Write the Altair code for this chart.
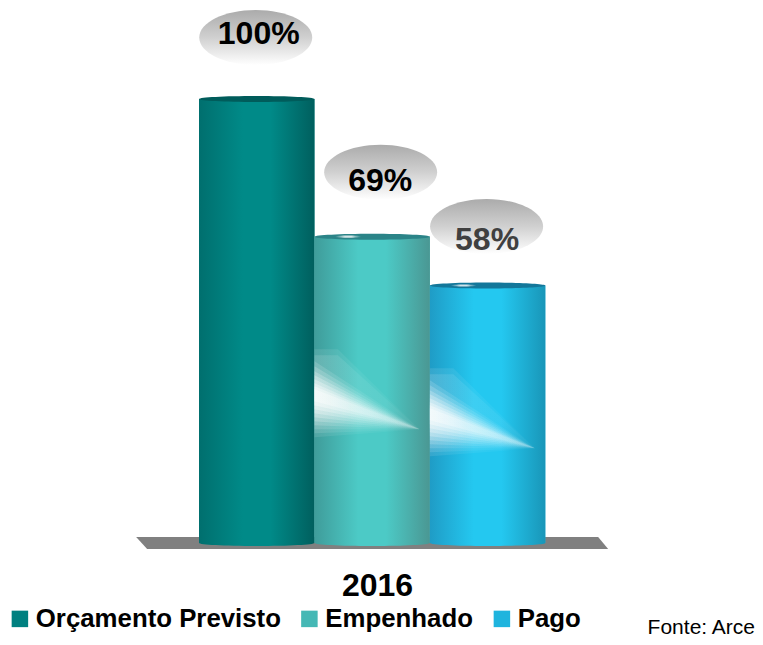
import altair as alt
import pandas as pd

categories = ["Orçamento Previsto", "Empenhado", "Pago"]
values = [100, 69, 58]
labels = ["100%", "69%", "58%"]
swatch_colors = ["#008080", "#45b8b5", "#1fb4de"]
label_colors = ["#000000", "#000000", "#404040"]
edge_colors = [
    ["#006f6e", "#008a88", "#008a88", "#005f5e"],
    ["#3f9c9a", "#4ccac6", "#4ccac6", "#4a9793"],
    ["#1f9cc6", "#24c8f0", "#24c8f0", "#1996b8"],
]
cap_colors = ["#005c5b", "#2b8488", "#13779a"]

# glare: nested fans, px above and below the bright spot on the cylinder's left edge
glare_top = [-42, -36, -30, -25, -20, -16, -12, -8, -5, -2]
glare_bottom = [46, 42, 38, 34, 30, 26, 22, 18, 14, 10]
glare_alpha = [0.1, 0.12, 0.14, 0.18, 0.22, 0.26, 0.3, 0.34, 0.4, 0.4]
glare_at = [34.2, 29.9]

FONT = "Liberation Sans"
ELLIPSE = "M-1,0 A1,{r} 0 1,1 1,0 A1,{r} 0 1,1 -1,0 Z"
BALLOON = ELLIPSE.format(r=0.487)
CAP = ELLIPSE.format(r=0.052)
SHINE = ELLIPSE.format(r=0.08)
GROUND = "M-1,-0.0254 L0.9576,-0.0254 L1,0.0254 L-0.9534,0.0254 Z"

x_scale = alt.Scale(domain=categories, range=[191, 537.3], paddingInner=0, paddingOuter=0)
y_scale = alt.Scale(domain=[0, 100], range=[535, 91], nice=False, zero=True)
X = alt.X("cat:N", scale=x_scale, axis=None, sort=categories)
Y = alt.Y("val:Q", scale=y_scale, axis=None)


def hgrad(stops, offs=(0, 0.38, 0.62, 1)):
    return alt.LinearGradient(
        gradient="linear", x1=0, x2=1, y1=0, y2=0,
        stops=[alt.GradientStop(offset=o, color=c) for o, c in zip(offs, stops)],
    )


def fan_grad(a):
    return alt.LinearGradient(
        gradient="linear", x1=0, x2=1, y1=0, y2=0,
        stops=[
            alt.GradientStop(offset=0, color=f"rgba(255,255,255,{a:.3f})"),
            alt.GradientStop(offset=0.35, color=f"rgba(255,255,255,{a * 0.6:.3f})"),
            alt.GradientStop(offset=1, color=f"rgba(255,255,255,{a * 0.2:.3f})"),
        ],
    )


balloon_grad = alt.LinearGradient(
    gradient="linear", x1=0, x2=0, y1=0, y2=1,
    stops=[
        alt.GradientStop(offset=0, color="#ababab"),
        alt.GradientStop(offset=0.5, color="#d0d0d0"),
        alt.GradientStop(offset=1, color="#ffffff"),
    ],
)
shine_grad = hgrad(
    ["rgba(255,255,255,0)", "rgba(255,255,255,0.8)", "rgba(255,255,255,0.8)", "rgba(255,255,255,0)"]
)

df = pd.DataFrame({"cat": categories, "val": values})
one = lambda i: pd.DataFrame({"cat": [categories[i]], "val": [values[i]]})
base = lambda i: pd.DataFrame({"cat": [categories[i]], "val": [0]})

layers = []
layers.append(
    alt.Chart(base(1))
    .mark_point(shape=GROUND, filled=True, fill="#808080", opacity=1, size=472**2, strokeWidth=0)
    .encode(x=X, y=Y)
)
layers.append(
    alt.Chart(df).mark_bar().encode(
        x=X,
        y=Y,
        color=alt.Color(
            "cat:N",
            sort=categories,
            scale=alt.Scale(domain=categories, range=swatch_colors),
            legend=alt.Legend(
                title=None, orient="none", legendX=-1, legendY=598, direction="horizontal",
                columns=3, gridAlign="none", columnPadding=15.5, labelOffset=3,
                symbolType="square", symbolSize=272, symbolStrokeWidth=0,
                labelFont=FONT, labelFontSize=25.8, labelFontWeight="bold", labelColor="#000000",
                labelLimit=400, padding=0,
            ),
        ),
    )
)
for i in range(3):
    g = hgrad(edge_colors[i])
    layers.append(alt.Chart(one(i)).mark_bar(color=g).encode(x=X, y=Y))
    layers.append(
        alt.Chart(base(i))
        .mark_point(shape=CAP, filled=True, fill=g, opacity=1, size=115.4**2, strokeWidth=0)
        .encode(x=X, y=Y)
    )
    layers.append(
        alt.Chart(one(i))
        .mark_point(shape=CAP, filled=True, fill=cap_colors[i], opacity=1, size=115.4**2, strokeWidth=0)
        .encode(x=X, y=Y)
    )
    if i > 0:
        layers.append(
            alt.Chart(one(i))
            .mark_point(shape=SHINE, filled=True, fill=shine_grad, opacity=1, size=26**2,
                        strokeWidth=0, xOffset=-24)
            .encode(x=X, y=Y)
        )

for i, v in zip([1, 2], glare_at):
    for k, (t, b, a) in enumerate(zip(glare_top, glare_bottom, glare_alpha)):
        top, bottom = t / 57.7, b / 57.7
        corner = f"L-0.594,{top:.4f} " if k < 2 else ""
        fan = f"M-1,{top:.4f} {corner}L0.82,0.66 L-1,{bottom:.4f} Z"
        layers.append(
            alt.Chart(pd.DataFrame({"cat": [categories[i]], "val": [v]}))
            .mark_point(shape=fan, filled=True, fill=fan_grad(a), opacity=1, size=115.4**2, strokeWidth=0)
            .encode(x=X, y=Y)
        )

balloon_dx = [-1, 8.5, -1]
balloon_dy = [-61.5, -64.5, -59]
text_dx = [2, 8, -0.5]
text_dy = [-65.5, -56, -45.5]
for i in range(3):
    layers.append(
        alt.Chart(one(i))
        .mark_point(shape=BALLOON, filled=True, fill=balloon_grad, opacity=1, size=113**2,
                    strokeWidth=0, xOffset=balloon_dx[i], yOffset=balloon_dy[i])
        .encode(x=X, y=Y)
    )
    layers.append(
        alt.Chart(pd.DataFrame({"cat": [categories[i]], "val": [values[i]], "t": [labels[i]]}))
        .mark_text(font=FONT, fontWeight="bold", fontSize=32, color=label_colors[i],
                   align="center", baseline="middle", xOffset=text_dx[i], yOffset=text_dy[i])
        .encode(x=X, y=Y, text="t:N")
    )

layers.append(
    alt.Chart(pd.DataFrame({"t": ["2016"]}))
    .mark_text(font=FONT, fontWeight="bold", fontSize=32, color="#000000", align="center", baseline="middle")
    .encode(x=alt.value(369.5), y=alt.value(578), text="t:N")
)
layers.append(
    alt.Chart(pd.DataFrame({"t": ["Fonte: Arce"]}))
    .mark_text(font=FONT, fontSize=21, color="#000000", align="right", baseline="middle")
    .encode(x=alt.value(747), y=alt.value(620), text="t:N")
)

chart = (
    alt.layer(*layers)
    .properties(width=747, height=629, padding=0, background="#ffffff",
                autosize=alt.AutoSizeParams(type="none"))
    .configure_view(stroke=None)
)
chart.save("out.html", embed_options={"renderer": "svg", "actions": False})
